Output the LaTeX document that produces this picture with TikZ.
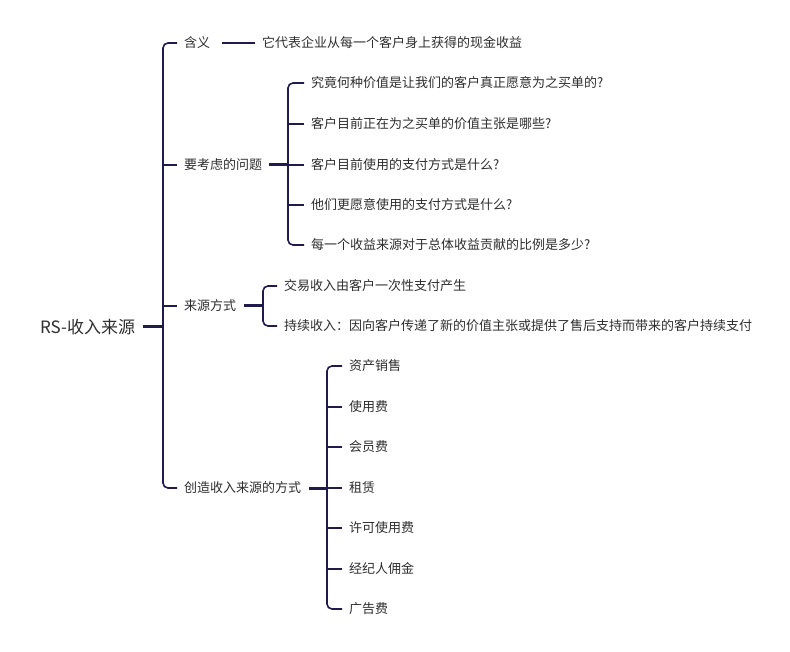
\documentclass[tikz,border=0pt]{standalone}
\usepackage{fontspec}
\setmainfont{Noto Sans CJK SC}
\definecolor{linec}{HTML}{1F1B4D}
\definecolor{textc}{HTML}{2E2E2E}
\begin{document}
\begin{tikzpicture}[x=1pt,y=-1pt,
  txt/.style={anchor=west,inner sep=0pt,font=\fontsize{13}{15}\selectfont,text=textc},
  roottxt/.style={anchor=west,inner sep=0pt,font=\fontsize{17}{20}\selectfont,text=textc},
  conn/.style={draw=linec,line width=1.6pt,rounded corners=5pt},
  thickconn/.style={draw=linec,line width=3pt}]
\fill[white] (0,0) rectangle (790,652);
\useasboundingbox (0,0) rectangle (790,652);
% root
\node[roottxt] (root) at (40,327) {RS-收入来源};
% level 1
\node[txt] (n1) at (184,43) {含义};
\node[txt] (n2) at (184,165) {要考虑的问题};
\node[txt] (n3) at (184,306) {来源方式};
\node[txt] (n4) at (184,488) {创造收入来源的方式};
% meaning
\node[txt] (n1a) at (262,43) {它代表企业从每一个客户身上获得的现金收益};
% questions
\node[txt] (q1) at (311,83) {究竟何种价值是让我们的客户真正愿意为之买单的?};
\node[txt] (q2) at (311,124) {客户目前正在为之买单的价值主张是哪些?};
\node[txt] (q3) at (311,165) {客户目前使用的支付方式是什么?};
\node[txt] (q4) at (311,205) {他们更愿意使用的支付方式是什么?};
\node[txt] (q5) at (311,245) {每一个收益来源对于总体收益贡献的比例是多少?};
% sources
\node[txt] (s1) at (284,286) {交易收入由客户一次性支付产生};
\node[txt] (s2) at (284,326) {持续收入：因向客户传递了新的价值主张或提供了售后支持而带来的客户持续支付};
% ways
\node[txt] (w1) at (349,366) {资产销售};
\node[txt] (w2) at (349,407) {使用费};
\node[txt] (w3) at (349,447) {会员费};
\node[txt] (w4) at (349,488) {租赁};
\node[txt] (w5) at (349,528) {许可使用费};
\node[txt] (w6) at (349,569) {经纪人佣金};
\node[txt] (w7) at (349,609) {广告费};
% spine
\coordinate (sp) at (163,327);
\draw[conn] ([xshift=-7pt]n1.west) -| (sp) |- ([xshift=-7pt]n4.west);
\draw[conn] ([xshift=-7pt]n2.west) -- (sp |- n2.west);
\draw[conn] ([xshift=-7pt]n3.west) -- (sp |- n3.west);
\draw[thickconn] ([xshift=8pt]root.east) -- (sp);
% meaning connector
\draw[conn] ([xshift=12pt]n1.east) -- ([xshift=-7pt]n1a.west);
% questions
\coordinate (qv) at (288,165);
\draw[thickconn] ([xshift=7pt]n2.east) -- (qv);
\draw[conn] ([xshift=-7pt]q1.west) -| (qv) |- ([xshift=-7pt]q5.west);
\draw[conn] ([xshift=-7pt]q2.west) -- (qv |- q2.west);
\draw[conn] ([xshift=-7pt]q3.west) -- (qv |- q3.west);
\draw[conn] ([xshift=-7pt]q4.west) -- (qv |- q4.west);
% sources
\coordinate (sv) at (263,306);
\draw[thickconn] ([xshift=8pt]n3.east) -- (sv);
\draw[conn] ([xshift=-7pt]s1.west) -| (sv) |- ([xshift=-7pt]s2.west);
% ways
\coordinate (wv) at (327,488);
\draw[thickconn] ([xshift=8pt]n4.east) -- (wv);
\draw[conn] ([xshift=-7pt]w1.west) -| (wv) |- ([xshift=-7pt]w7.west);
\draw[conn] ([xshift=-7pt]w2.west) -- (wv |- w2.west);
\draw[conn] ([xshift=-7pt]w3.west) -- (wv |- w3.west);
\draw[conn] ([xshift=-7pt]w4.west) -- (wv |- w4.west);
\draw[conn] ([xshift=-7pt]w5.west) -- (wv |- w5.west);
\draw[conn] ([xshift=-7pt]w6.west) -- (wv |- w6.west);
\end{tikzpicture}
\end{document}
